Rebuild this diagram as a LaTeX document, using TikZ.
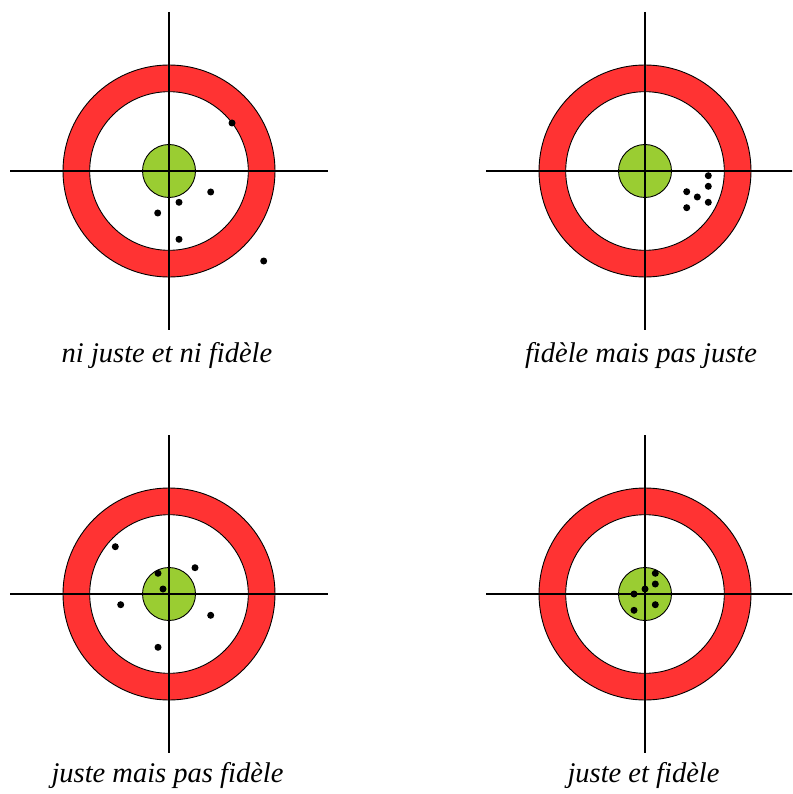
\documentclass[tikz,border=0pt]{standalone}
\usepackage{fontspec}
\setmainfont{Liberation Serif}
\usetikzlibrary{positioning}

\tikzset{
  ring/.style={fill={rgb, 255:red, 255; green, 51; blue, 51 }, line width=0.9},
  hole/.style={fill=white, line width=0.9},
  bull/.style={fill={rgb, 255:red, 154; green, 205; blue, 50 }, line width=0.9},
  cross/.style={line width=1.5},
  shot/.style={fill=black},
  caption/.style={anchor=base, font=\fontsize{28.5}{32}\selectfont\itshape},
}

\begin{document}
\begin{tikzpicture}[x=1pt,y=1pt,yscale=-1,xscale=1]
\path (0,0) rectangle (792,794); %set diagram size
\clip (0,0) rectangle (792,794);

% Targets
\foreach \cx/\cy/\nm in {169/171/A, 645/171/B, 169/594/C, 645/594/D}{
  \coordinate (\nm) at (\cx,\cy);
  \draw [ring] (\nm) circle (106);
  \draw [hole] (\nm) circle (79.3);
  \draw [bull] (\nm) circle (26.5);
  \draw [cross] (\cx-159,\cy) -- (\cx+159,\cy);
  \draw [cross] (\cx,\cy-159) -- (\cx,\cy+159);
}

% Shots: ni juste et ni fidele
\begin{scope}[shift={(A)}]
\foreach \dx/\dy in {63/-48, 41.7/21, 10/31.3, -11.3/42, 10/68.3, 94.7/90}
  \fill [shot] (\dx,\dy) circle (3.5);
\end{scope}
% Shots: fidele mais pas juste
\begin{scope}[shift={(B)}]
\foreach \dx/\dy in {63.3/4.7, 63.3/15.3, 41.7/20.7, 52.3/26, 63.3/31.3, 41.7/36.7}
  \fill [shot] (\dx,\dy) circle (3.5);
\end{scope}
% Shots: juste mais pas fidele
\begin{scope}[shift={(C)}]
\foreach \dx/\dy in {-53.7/-47.3, 26/-26.3, -11/-20.7, -6/-5, -48.3/10.7, 41.7/21.3, -11/53.3}
  \fill [shot] (\dx,\dy) circle (3.5);
\end{scope}
% Shots: juste et fidele
\begin{scope}[shift={(D)}]
\foreach \dx/\dy in {10.3/-20.7, 10.3/-10, 0/-5, -11/0, 10.3/10.7, -11/16.3}
  \fill [shot] (\dx,\dy) circle (3.5);
\end{scope}

% Text Node
\node [caption] (labA) at (167,362) {ni juste et ni fidèle};
% Text Node
\node [caption] (labB) at (641,362) {fidèle mais pas juste};
% Text Node
\node [caption] (labC) at (167.5,782) {juste mais pas fidèle};
% Text Node
\node [caption] (labD) at (643.5,782) {juste et fidèle};

\end{tikzpicture}
\end{document}
